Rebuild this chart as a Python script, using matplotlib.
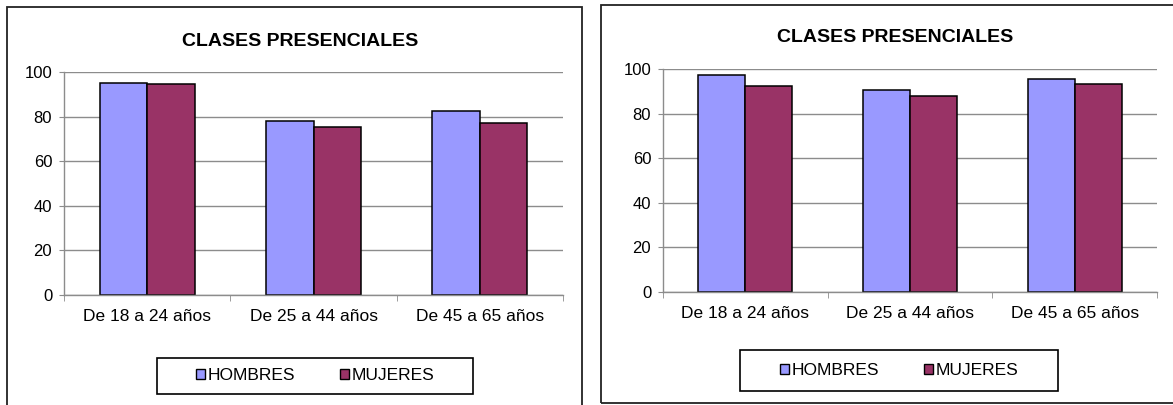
import numpy as np
import matplotlib
matplotlib.use("Agg")
import matplotlib.pyplot as plt
from matplotlib.patches import Rectangle, Patch

plt.rcParams['font.family'] = ['Liberation Sans', 'DejaVu Sans']

categories = ["De 18 a 24 años", "De 25 a 44 años", "De 45 a 65 años"]
series_names = ["HOMBRES", "MUJERES"]
left_hombres = [95.3, 78.3, 82.4]
left_mujeres = [94.6, 75.2, 77.2]
right_hombres = [97.3, 90.7, 95.8]
right_mujeres = [92.5, 87.9, 93.3]
yticks = [0, 20, 40, 60, 80, 100]
title = "CLASES PRESENCIALES"

colors = ["#9999FF", "#993366"]
grid_gray = "#8c8c8c"

W, H = 1173, 405
fig = plt.figure(figsize=(W / 100, H / 100), dpi=100)


def px_rect(x0, y0, x1, y1):
    # pixel box (top-left origin) -> figure fraction [left, bottom, width, height]
    return [x0 / W, 1 - y1 / H, (x1 - x0) / W, (y1 - y0) / H]


def draw_panel(box, ax_px, title_xy, legend_px, hombres, mujeres):
    # outer frame of the chart
    bx = px_rect(*box)
    fig.patches.append(Rectangle((bx[0], bx[1]), bx[2], bx[3], transform=fig.transFigure,
                                 fill=False, edgecolor="#222222", linewidth=1.3))

    ax = fig.add_axes(px_rect(*ax_px))
    x = np.arange(len(categories))
    w = 1 / 3.5
    ax.bar(x - w / 2, hombres, w, color=colors[0], edgecolor="black", linewidth=1.1, zorder=3)
    ax.bar(x + w / 2, mujeres, w, color=colors[1], edgecolor="black", linewidth=1.1, zorder=3)

    ax.set_xlim(-0.5, len(categories) - 0.5)
    ax.set_ylim(0, 100)
    ax.set_yticks(yticks)
    ax.set_xticks(x)
    ax.set_xticklabels(categories, fontsize=12.5)
    ax.set_xticks(np.arange(len(categories) + 1) - 0.5, minor=True)
    ax.tick_params(axis="x", which="major", length=0, pad=10)
    ax.tick_params(axis="x", which="minor", length=4, color=grid_gray, direction="out")
    ax.tick_params(axis="y", length=3.5, color=grid_gray, pad=5, labelsize=12)
    ax.yaxis.grid(True, color=grid_gray, linewidth=1)
    ax.set_axisbelow(True)
    for s in ["top", "right"]:
        ax.spines[s].set_visible(False)
    for s in ["left", "bottom"]:
        ax.spines[s].set_color(grid_gray)
        ax.spines[s].set_linewidth(1)
    ax.spines["bottom"].set_zorder(4)

    fig.text(title_xy[0] / W, 1 - title_xy[1] / H, title, ha="center", va="center",
             fontsize=14, fontweight="bold")

    # legend box
    lx = px_rect(*legend_px)
    fig.patches.append(Rectangle((lx[0], lx[1]), lx[2], lx[3], transform=fig.transFigure,
                                 fill=False, edgecolor="black", linewidth=1.2))
    handles = [Patch(facecolor=c, edgecolor="black", linewidth=1) for c in colors]
    fig.legend(handles, series_names, loc="center", ncol=2, frameon=False,
               bbox_to_anchor=(lx[0] + lx[2] / 2, lx[1] + lx[3] / 2),
               bbox_transform=fig.transFigure, fontsize=12.5,
               handlelength=0.5, handleheight=0.5, handletextpad=0.15,
               columnspacing=2.6)


draw_panel((7, 7.5, 582, 420), (64, 72.3, 563, 294.7), (300, 41), (157, 358, 473, 394),
           left_hombres, left_mujeres)
draw_panel((601, 5, 1190, 403), (663, 69.3, 1157, 291.7), (895, 37), (740, 350, 1058, 391),
           right_hombres, right_mujeres)

fig.savefig("out.png", dpi=100)
